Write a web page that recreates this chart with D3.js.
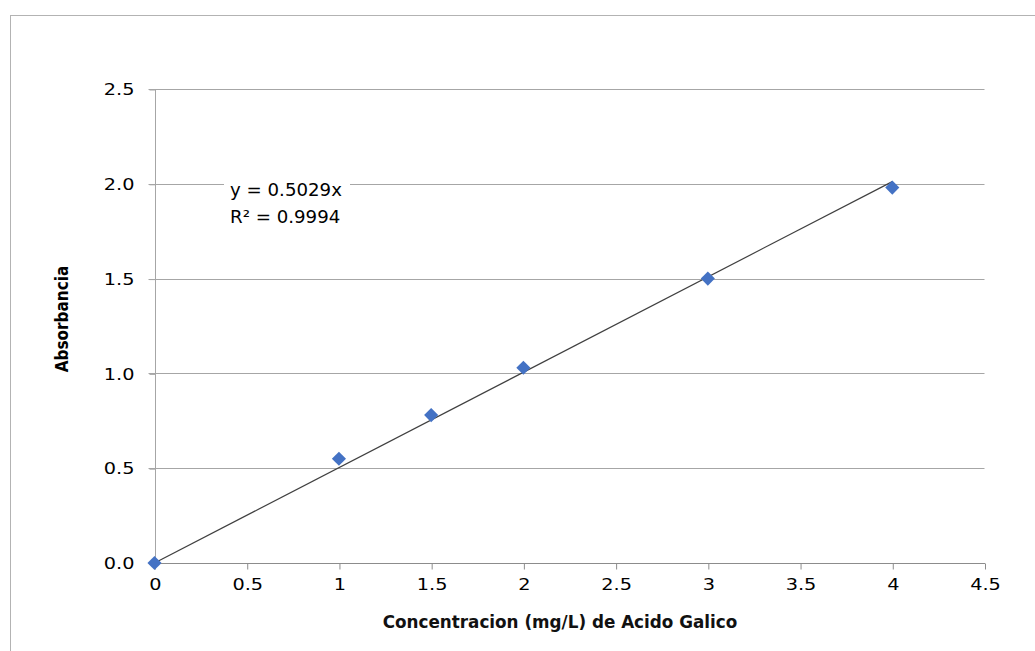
<!DOCTYPE html>
<html>
<head>
<meta charset="utf-8">
<script src="https://cdn.jsdelivr.net/npm/d3@7"></script>
<style>
  body { margin: 0; background: #fff; }
  svg { display: block; }
</style>
</head>
<body>
<svg id="chart" width="1035" height="651"></svg>
<script>
// calibration points
const concentracion = [0, 1, 1.5, 2, 3, 4];
const absorbancia = [0, 0.55, 0.78, 1.03, 1.50, 1.98];
const slope = 0.5029;
const xTicks = [0, 0.5, 1, 1.5, 2, 2.5, 3, 3.5, 4, 4.5];
const yTicks = [0, 0.5, 1.0, 1.5, 2.0, 2.5];
const eqLines = ["y = 0.5029x", "R² = 0.9994"];

const svg = d3.select("#chart");
const margin = { left: 154.5, right: 1035 - 984.5, top: 89, bottom: 651 - 563 };
const width = 1035, height = 651;
const FONT = "DejaVu Sans, Verdana, sans-serif";

// text in the source is a bit wider than DejaVu, stretch around its anchor
function stretch(sel, sx) {
    sel.each(function () {
        const t = d3.select(this);
        const tx = +t.attr("x") || 0;
        t.attr("transform", "translate(" + (tx * (1 - sx)) + ",0) scale(" + sx + ",1)");
    });
}

// outer chart border
svg.append("rect")
    .attr("x", 10.5).attr("y", 15.5)
    .attr("width", 1100).attr("height", 1000)
    .attr("fill", "#fff")
    .attr("stroke", "#b3b3b3");

const x = d3.scaleLinear().domain([0, 4.5]).range([margin.left, width - margin.right]);
const y = d3.scaleLinear().domain([0, 2.5]).range([height - margin.bottom, margin.top]);

// grid
svg.append("g").selectAll("line").data(yTicks.filter(d => d > 0))
    .enter().append("line")
    .attr("x1", x(0) - 6).attr("x2", x(4.5))
    .attr("y1", d => Math.round(y(d)) + 0.5).attr("y2", d => Math.round(y(d)) + 0.5)
    .attr("stroke", "#a6a6a6");

// y axis
const yAxis = d3.axisLeft(y).tickValues(yTicks).tickFormat(d3.format(".1f")).tickSize(6).tickPadding(15);
svg.append("g")
    .attr("transform", "translate(" + (Math.round(x(0)) + 0.5) + ",0.5)")
    .call(yAxis)
    .call(g => g.select(".domain").attr("stroke", "#a6a6a6").attr("d", "M-6," + y(2.5) + "H0V" + y(0)))
    .call(g => g.selectAll(".tick line").attr("stroke", "#a6a6a6"))
    .call(g => g.selectAll("text").attr("font-family", FONT).attr("font-size", 16.5).attr("fill", "#000").call(stretch, 1.17));

// x axis
const xAxis = d3.axisBottom(x).tickValues(xTicks).tickFormat(d => String(d)).tickSize(6).tickPadding(9);
svg.append("g")
    .attr("transform", "translate(0.5," + (Math.round(y(0)) + 0.5) + ")")
    .call(xAxis)
    .call(g => g.select(".domain").attr("stroke", "#8c8c8c").attr("d", "M" + x(0) + ",0H" + x(4.5)))
    .call(g => g.selectAll(".tick line").attr("stroke", "#8c8c8c"))
    .call(g => g.selectAll("text").attr("font-family", FONT).attr("font-size", 16.5).attr("fill", "#000").call(stretch, 1.17));

// trendline
svg.append("line")
    .attr("x1", x(0)).attr("y1", y(0))
    .attr("x2", x(4)).attr("y2", y(slope * 4))
    .attr("stroke", "#404040").attr("stroke-width", 1.2);

// markers
svg.append("g").selectAll("path").data(concentracion)
    .enter().append("path")
    .attr("d", d3.symbol().type(d3.symbolSquare).size(100))
    .attr("transform", (d, i) => "translate(" + x(d) + "," + y(absorbancia[i]) + ") rotate(45)")
    .attr("fill", "#4472c4");

// equation label
const eq = svg.append("g").attr("transform", "translate(229,0)");
eq.append("rect").attr("x", -5).attr("y", 176).attr("width", 126).attr("height", 52).attr("fill", "#fff");
eq.selectAll("text").data(eqLines).enter().append("text")
    .attr("x", 1).attr("y", (d, i) => 196 + i * 27)
    .attr("font-family", FONT).attr("font-size", 17)
    .attr("fill", "#000")
    .text(d => d)
    .call(stretch, 1.07);

// axis titles
svg.append("text")
    .attr("transform", "translate(68," + 319 + ") rotate(-90)")
    .attr("text-anchor", "middle")
    .attr("font-family", "Liberation Sans Narrow, DejaVu Sans Condensed, Arial Narrow, sans-serif")
    .attr("font-weight", "bold").attr("font-size", 17)
    .text("Absorbancia");

svg.append("text")
    .attr("x", 560).attr("y", 628)
    .attr("text-anchor", "middle")
    .attr("font-family", FONT)
    .attr("font-weight", "bold").attr("font-size", 16.8)
    .attr("fill", "#111")
    .text("Concentracion (mg/L) de Acido Galico");
</script>
</body>
</html>
